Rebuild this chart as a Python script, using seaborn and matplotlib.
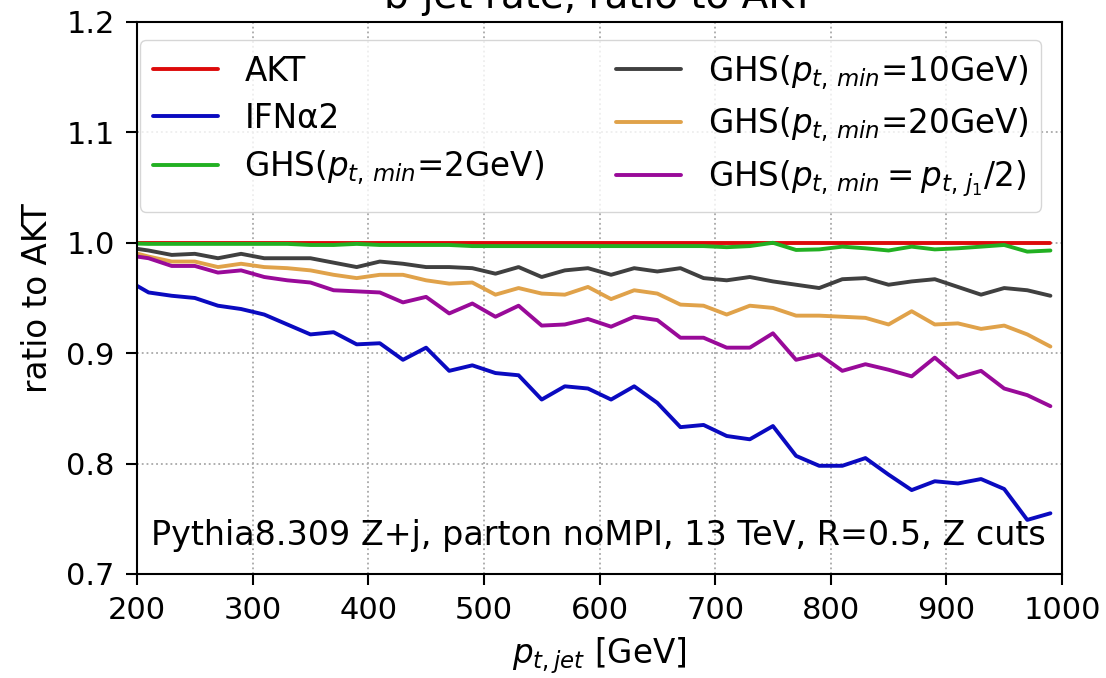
import pandas as pd
import seaborn as sns
import matplotlib.pyplot as plt

# bin centres in GeV (first bin sits left of the plotted range)
pt = [190, 210, 230, 250, 270, 290, 310, 330, 350, 370, 390,
      410, 430, 450, 470, 490, 510, 530, 550, 570, 590,
      610, 630, 650, 670, 690, 710, 730, 750, 770, 790,
      810, 830, 850, 870, 890, 910, 930, 950, 970, 990]

akt = [1.0] * len(pt)
ifn = [0.967, 0.955, 0.952, 0.950, 0.943, 0.940, 0.935, 0.926, 0.917, 0.919, 0.908,
       0.909, 0.894, 0.905, 0.884, 0.889, 0.882, 0.880, 0.858, 0.870, 0.868,
       0.858, 0.870, 0.855, 0.833, 0.835, 0.825, 0.822, 0.834, 0.807, 0.798,
       0.798, 0.805, 0.790, 0.776, 0.784, 0.782, 0.786, 0.777, 0.749, 0.755]
ghs2 = [0.9995, 0.999, 0.999, 0.999, 0.999, 0.999, 0.999, 0.999, 0.998, 0.998, 0.999,
        0.998, 0.998, 0.998, 0.998, 0.997, 0.997, 0.997, 0.997, 0.997, 0.997,
        0.997, 0.997, 0.997, 0.997, 0.997, 0.996, 0.997, 1.000, 0.9935, 0.994,
        0.9965, 0.995, 0.993, 0.9965, 0.994, 0.995, 0.9965, 0.998, 0.992, 0.993]
ghs10 = [0.996, 0.993, 0.989, 0.990, 0.986, 0.990, 0.986, 0.986, 0.986, 0.982, 0.978,
         0.983, 0.981, 0.978, 0.978, 0.977, 0.972, 0.978, 0.969, 0.975, 0.977,
         0.971, 0.977, 0.974, 0.977, 0.968, 0.966, 0.969, 0.965, 0.962, 0.959,
         0.967, 0.968, 0.962, 0.965, 0.967, 0.960, 0.953, 0.959, 0.957, 0.952]
ghs20 = [0.993, 0.9875, 0.983, 0.983, 0.978, 0.981, 0.978, 0.977, 0.975, 0.971, 0.968,
         0.971, 0.971, 0.966, 0.963, 0.964, 0.953, 0.959, 0.954, 0.953, 0.960,
         0.949, 0.957, 0.954, 0.944, 0.943, 0.935, 0.943, 0.941, 0.934, 0.934,
         0.933, 0.932, 0.926, 0.938, 0.926, 0.927, 0.922, 0.925, 0.917, 0.906]
ghs_half = [0.989, 0.986, 0.979, 0.979, 0.973, 0.975, 0.969, 0.966, 0.964, 0.957, 0.956,
            0.955, 0.946, 0.951, 0.936, 0.945, 0.933, 0.943, 0.925, 0.926, 0.931,
            0.924, 0.933, 0.930, 0.914, 0.914, 0.905, 0.905, 0.918, 0.894, 0.899,
            0.884, 0.890, 0.885, 0.879, 0.896, 0.878, 0.884, 0.868, 0.862, 0.852]

labels = ["AKT", "IFNα2",
          r"GHS($p_{t,\,min}$=2GeV)",
          r"GHS($p_{t,\,min}$=10GeV)",
          r"GHS($p_{t,\,min}$=20GeV)",
          r"GHS($p_{t,\,min} = p_{t,\,j_1}/2$)"]
colors = ["#dd0a0a", "#0a0ac0", "#22b022", "#404040", "#e0a24a", "#990a99"]
series = [akt, ifn, ghs2, ghs10, ghs20, ghs_half]

df = pd.concat([pd.DataFrame({"pt": pt, "ratio": s, "alg": lab})
                for s, lab in zip(series, labels)], ignore_index=True)

sns.set_style("ticks")
plt.rcParams['font.family'] = ['DejaVu Sans']
plt.rcParams['mathtext.fontset'] = 'dejavusans'
plt.rcParams['text.color'] = 'black'
plt.rcParams['axes.labelcolor'] = 'black'
plt.rcParams['axes.edgecolor'] = 'black'
plt.rcParams['xtick.color'] = 'black'
plt.rcParams['ytick.color'] = 'black'

fig = plt.figure(figsize=(11.06, 6.78), dpi=100)
ax = fig.add_axes([0.1239, 0.1534, 0.8363, 0.8142])

sns.lineplot(data=df, x="pt", y="ratio", hue="alg", hue_order=labels,
             palette=dict(zip(labels, colors)), lw=2.8, ax=ax,
             estimator=None, sort=False)

ax.set_xlim(200, 1000)
ax.set_ylim(0.7, 1.2)
ax.set_xticks([200, 300, 400, 500, 600, 700, 800, 900, 1000])
ax.set_yticks([0.7, 0.8, 0.9, 1.0, 1.1, 1.2])
ax.grid(True, ls=":", color="#a8a8a8", lw=1.3)
for sp in ax.spines.values():
    sp.set_linewidth(1.5)
ax.tick_params(labelsize=22, length=8, width=1.5, pad=8)

ax.set_xlabel(r"$p_{t,jet}$ [GeV]", fontsize=23.5, labelpad=7)
ax.set_ylabel("ratio to AKT", fontsize=23.5, labelpad=9)
ax.set_title("b-jet rate, ratio to AKT", fontsize=28, pad=10)

h, l = ax.get_legend_handles_labels()
ax.legend(h, l, ncol=2, loc="upper left", bbox_to_anchor=(0.003, 0.968),
          borderaxespad=0, fontsize=23.5, columnspacing=2.2,
          labelspacing=0.42, frameon=True)

ax.text(0.982, 0.04, "Pythia8.309 Z+j, parton noMPI, 13 TeV, R=0.5, Z cuts",
        transform=ax.transAxes, ha="right", va="bottom", fontsize=24)

fig.savefig("out.png", dpi=100)
